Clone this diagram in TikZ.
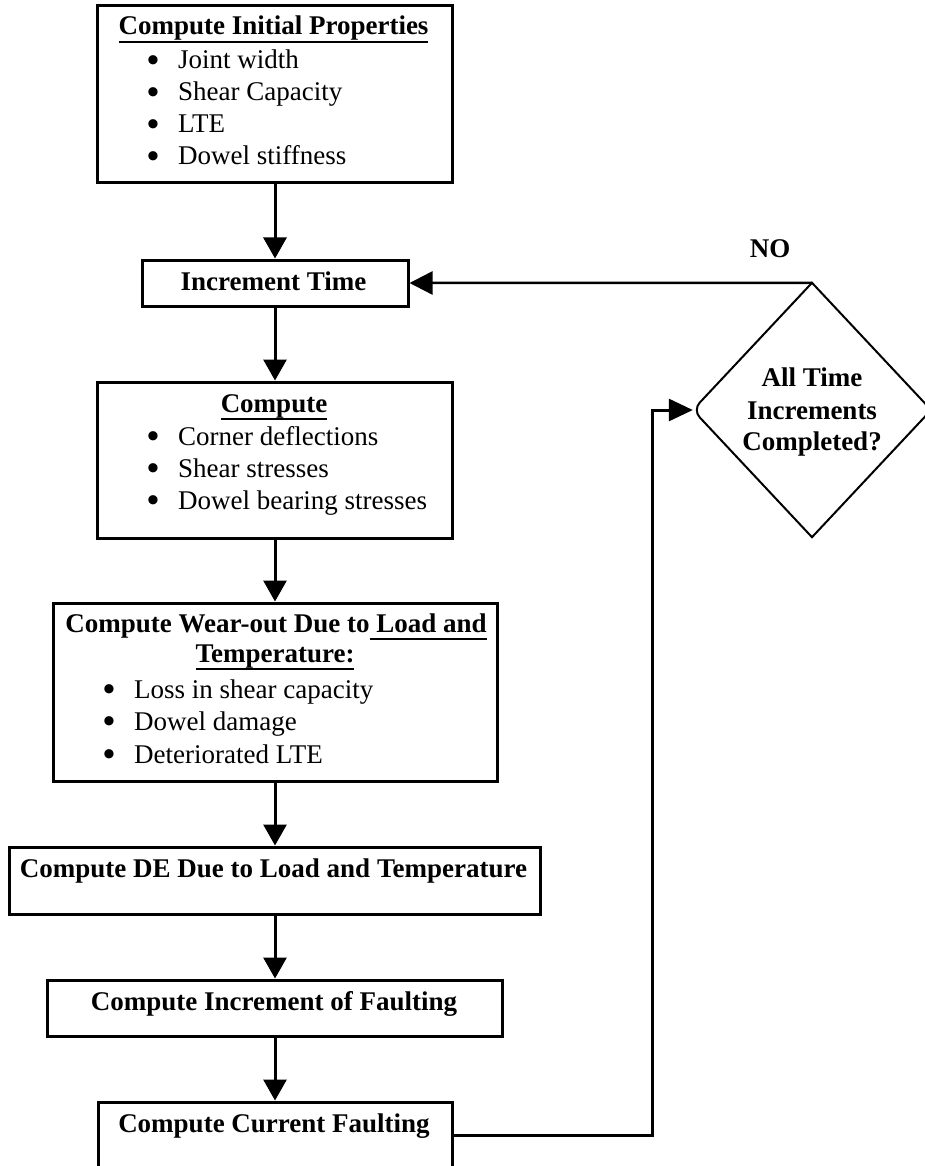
\documentclass[tikz,border=0pt]{standalone}
\usepackage{fontspec}
\setmainfont{Liberation Serif}
\usetikzlibrary{arrows.meta,shapes.geometric}
\newcommand\ulx[1]{\setbox0\hbox{#1}\rlap{\rule[-8pt]{\wd0}{1.8pt}}\box0}
\newcommand\bul{\makebox[31pt][l]{\raisebox{-2.5pt}{\fontsize{34}{34}\selectfont\bfseries •}}}
\begin{document}
\begin{tikzpicture}[x=1pt,y=-1pt,
  box/.style={draw,line width=3pt,inner sep=0pt},
  txt/.style={inner sep=0pt,font=\fontsize{27}{32.4}\selectfont},
  btxt/.style={txt,font=\fontsize{27}{32.4}\selectfont\bfseries},
  arr/.style={line width=3pt,-{Triangle[length=21pt,width=23pt]}},
  thinarr/.style={line width=2.5pt,-{Triangle[length=23pt,width=23pt]}}]
\useasboundingbox (0,0) rectangle (924,1166);

% boxes
\node[box,minimum width=355pt,minimum height=177pt] (B1) at (275,94.5) {};
\node[box,minimum width=266pt,minimum height=46pt] (IT) at (275,283) {};
\node[box,minimum width=355pt,minimum height=156pt] (C) at (275,460) {};
\node[box,minimum width=444pt,minimum height=178pt] (W) at (275,692) {};
\node[box,minimum width=531pt,minimum height=67pt] (DE) at (275,880.5) {};
\node[box,minimum width=455pt,minimum height=56pt] (IF) at (275,1008) {};
\node[box,minimum width=354pt,minimum height=66pt] (CF) at (275,1135) {};

% decision
\node[diamond,inner sep=0pt,minimum width=238pt,minimum height=254pt] (dec) at (812,410) {};
\draw[line width=2pt] (dec.north) -- (dec.east) -- (dec.south)
  [rounded corners=10pt] -- (dec.west) [sharp corners] -- cycle;

% texts box 1
\node[btxt,anchor=base] (t1) at (273.5,35) {\ulx{Compute Initial Properties}};
\node[txt,anchor=base west] (t1a) at (147,69) {\bul Joint width};
\node[txt,anchor=base west] (t1b) at (147,101) {\bul Shear Capacity};
\node[txt,anchor=base west] (t1c) at (147,133) {\bul LTE};
\node[txt,anchor=base west] (t1d) at (147,165) {\bul Dowel stiffness};

\node[btxt,anchor=base] (t2) at (273.5,290) {Increment Time};

\node[btxt,anchor=base] (t3) at (274,412) {\ulx{Compute}};
\node[txt,anchor=base west] (t3a) at (147,445) {\bul Corner deflections};
\node[txt,anchor=base west] (t3b) at (147,477) {\bul Shear stresses};
\node[txt,anchor=base west] (t3c) at (147,509) {\bul Dowel bearing stresses};

\node[btxt,anchor=base] (t4) at (276,632) {Compute Wear-out Due to\ulx{\ Load and}};
\node[btxt,anchor=base] (t4l) at (275,662) {\ulx{Temperature:}};
\node[txt,anchor=base west] (t4a) at (103,698) {\bul Loss in shear capacity};
\node[txt,anchor=base west] (t4b) at (103,730) {\bul Dowel damage};
\node[txt,anchor=base west] (t4c) at (103,763) {\bul Deteriorated LTE};

\node[btxt,anchor=base] (t5) at (273.5,877) {Compute DE Due to Load and Temperature};
\node[btxt,anchor=base] (t6) at (274,1010) {Compute Increment of Faulting};
\node[btxt,anchor=base] (t7) at (274,1132) {Compute Current Faulting};

\node[btxt,anchor=base] (d1) at (812,386) {All Time};
\node[btxt,anchor=base] (d2) at (812,419) {Increments};
\node[btxt,anchor=base] (d3) at (812,450) {Completed?};

\node[btxt,anchor=base] (no) at (770,258) {NO};

% connectors
\draw[arr] (B1.south) -- (IT.north);
\draw[arr] (IT.south) -- (C.north);
\draw[arr] (C.south) -- (W.north);
\draw[arr] (W.south) -- (DE.north);
\draw[arr] (DE.south) -- (IF.north);
\draw[arr] (IF.south) -- (CF.north);
\draw[thinarr] (dec.north) -- (IT.east);
\draw[line width=3pt,-{Triangle[length=24pt,width=22pt]}] (CF.east) -- ++(199,0) |- (dec.west);
\end{tikzpicture}
\end{document}
